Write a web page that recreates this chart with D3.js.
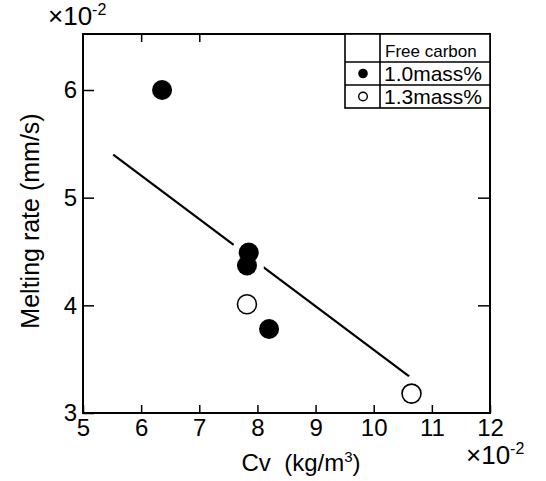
<html lang='en'>
<head>
    <meta content='text/html; charset=utf-8' http-equiv='Content-Type'>
    <title>Melting rate vs Cv</title>
    <script src="https://d3js.org/d3.v7.min.js"></script>
    <style>
        body { margin: 0; background: #fff; }
        svg { font-family: "Liberation Sans", Arial, sans-serif; }
        .tick line { stroke: #000; stroke-width: 1.5px; }
        .tick text { font-size: 24px; fill: #000; }
        .domain { display: none; }
    </style>
</head>
<body>
<script>
// data (x in 1e-2 kg/m3, y in 1e-2 mm/s)
var cvFilled = [6.36, 7.85, 7.82, 8.20];
var rateFilled = [6.00, 4.49, 4.37, 3.78];
var cvOpen = [7.82, 10.65];
var rateOpen = [4.01, 3.18];
var fitCv = [5.52, 10.61];
var fitRate = [5.40, 3.34];
var xTicks = [5, 6, 7, 8, 9, 10, 11, 12];
var yTicks = [3, 4, 5, 6];
var topTicks = [6, 7];
var rightTicks = [4, 5];
var legendHead = "Free carbon";
var legendLabels = ["1.0mass%", "1.3mass%"];

var width = 546, height = 481;
var yMax = 6.52;

var x = d3.scaleLinear().domain([5, 12]).range([83, 490]);
var y = d3.scaleLinear().domain([3, 6]).range([413, 90]);

var svg = d3.select("body").append("svg")
    .attr("width", width)
    .attr("height", height);

// axes (ticks point inward)
svg.append("g")
    .attr("transform", "translate(0," + y(3) + ")")
    .call(d3.axisBottom(x).tickValues(xTicks).tickSize(-8).tickPadding(6).tickFormat(d3.format("d")));

svg.append("g")
    .attr("transform", "translate(" + x(5) + ",0)")
    .call(d3.axisLeft(y).tickValues(yTicks).tickSize(-11).tickPadding(6).tickFormat(d3.format("d")));

svg.append("g")
    .attr("transform", "translate(0," + y(yMax) + ")")
    .call(d3.axisTop(x).tickValues(topTicks).tickSize(-8).tickFormat(""));

svg.append("g")
    .attr("transform", "translate(" + x(12) + ",0)")
    .call(d3.axisRight(y).tickValues(rightTicks).tickSize(-12).tickFormat(""));

// frame
svg.append("rect")
    .attr("x", x(5)).attr("y", y(yMax))
    .attr("width", x(12) - x(5)).attr("height", y(3) - y(yMax))
    .attr("fill", "none").attr("stroke", "#000").attr("stroke-width", 2);

// fitted line
var line = d3.line()
    .x(function(d) { return x(d[0]); })
    .y(function(d) { return y(d[1]); });

svg.append("path")
    .datum(d3.zip(fitCv, fitRate))
    .attr("d", line)
    .attr("fill", "none")
    .attr("stroke", "#000")
    .attr("stroke-width", 2.2);

var filled = d3.zip(cvFilled, rateFilled);
var open = d3.zip(cvOpen, rateOpen);

// white halo that breaks the line near the points
svg.selectAll(".halo")
    .data(filled.concat(open))
    .enter().append("circle")
    .attr("cx", function(d) { return x(d[0]); })
    .attr("cy", function(d) { return y(d[1]); })
    .attr("r", 17)
    .attr("fill", "#fff");

svg.selectAll(".dotF")
    .data(filled)
    .enter().append("circle")
    .attr("cx", function(d) { return x(d[0]); })
    .attr("cy", function(d) { return y(d[1]); })
    .attr("r", 10)
    .attr("fill", "#000");

svg.selectAll(".dotO")
    .data(open)
    .enter().append("circle")
    .attr("cx", function(d) { return x(d[0]); })
    .attr("cy", function(d) { return y(d[1]); })
    .attr("r", 9.5)
    .attr("fill", "#fff")
    .attr("stroke", "#000")
    .attr("stroke-width", 1.6);

// legend table
var lg = svg.append("g").attr("class", "legend");
var colX = [345, 380, x(12)];
var rowY = [y(yMax), 62, 85, 108];
lg.append("rect")
    .attr("x", colX[0]).attr("y", rowY[0])
    .attr("width", colX[2] - colX[0]).attr("height", rowY[3] - rowY[0])
    .attr("fill", "#fff").attr("stroke", "#000").attr("stroke-width", 1.6);
lg.append("line")
    .attr("x1", colX[1]).attr("x2", colX[1])
    .attr("y1", rowY[0]).attr("y2", rowY[3])
    .attr("stroke", "#000").attr("stroke-width", 1.6);
[rowY[1], rowY[2]].forEach(function(yy) {
    lg.append("line")
        .attr("x1", colX[0]).attr("x2", colX[2])
        .attr("y1", yy).attr("y2", yy)
        .attr("stroke", "#000").attr("stroke-width", 1.6);
});
lg.append("text")
    .attr("x", 385).attr("y", 57)
    .attr("font-size", 17)
    .text(legendHead);
legendLabels.forEach(function(lab, i) {
    var cy = (rowY[i + 1] + rowY[i + 2]) / 2;
    lg.append("circle")
        .attr("cx", 363).attr("cy", cy)
        .attr("r", i === 0 ? 4.8 : 4.3)
        .attr("fill", i === 0 ? "#000" : "#fff")
        .attr("stroke", "#000").attr("stroke-width", i === 0 ? 0 : 1.4);
    lg.append("text")
        .attr("x", 384).attr("y", cy + 7.5)
        .attr("font-size", 21)
        .text(lab);
});

// multiplier labels
function mult(xx, yy) {
    var t = svg.append("text").attr("x", xx).attr("y", yy).attr("font-size", 26);
    t.append("tspan").text("\u00d710");
    t.append("tspan").attr("font-size", 16).attr("dy", -10).text("-2");
}
mult(48, 25);
mult(466, 464);

// axis titles
var xt = svg.append("text")
    .attr("x", 301).attr("y", 471)
    .attr("text-anchor", "middle")
    .attr("font-size", 24);
xt.append("tspan").text("Cv\u00a0 (kg/m");
xt.append("tspan").attr("font-size", 15).attr("dy", -9).text("3");
xt.append("tspan").attr("dy", 9).text(")");

svg.append("text")
    .attr("transform", "translate(39,221) rotate(-90)")
    .attr("text-anchor", "middle")
    .attr("font-size", 25)
    .text("Melting rate (mm/s)");
</script>
</body>
</html>
